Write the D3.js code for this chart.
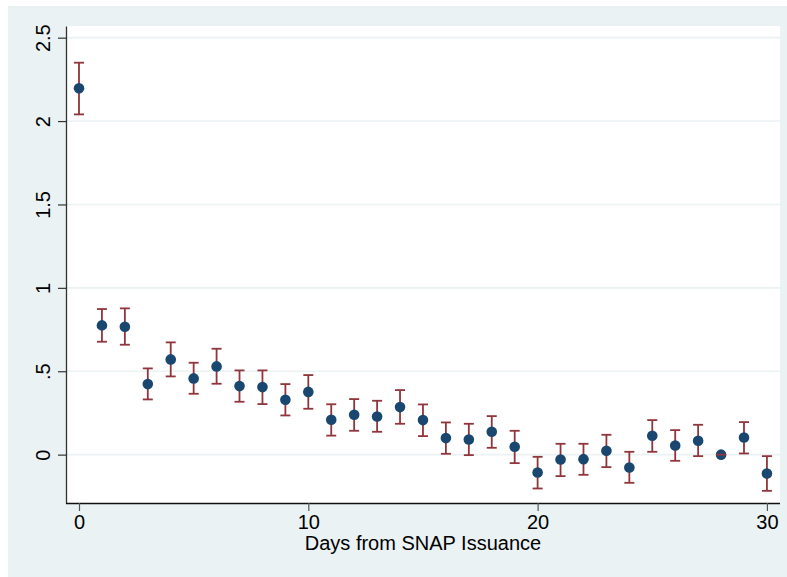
<!DOCTYPE html>
<html>
<head>
<meta charset="utf-8">
<script src="https://cdn.jsdelivr.net/npm/d3@7"></script>
<style>
  body { margin: 0; background: #fff; }
  svg { display: block; }
  text { font-family: "Liberation Sans", Arial, Helvetica, sans-serif; fill: #000; }
</style>
</head>
<body>
<svg id="chart" width="787" height="577"></svg>
<script>
// days since issuance and estimated coefficients with 95% CI
const days = [0, 1, 2, 3, 4, 5, 6, 7, 8, 9, 10, 11, 12, 13, 14, 15, 16, 17, 18, 19, 20,
    21, 22, 23, 24, 25, 26, 27, 28, 29, 30];
const coef = [2.197, 0.775, 0.767, 0.423, 0.571, 0.457, 0.529, 0.411, 0.405, 0.329, 0.376,
    0.209, 0.239, 0.229, 0.285, 0.207, 0.099, 0.091, 0.137, 0.047, -0.107,
    -0.029, -0.027, 0.023, -0.077, 0.113, 0.055, 0.083, 0.0, 0.103, -0.113];
const ciLow = [2.04, 0.677, 0.659, 0.331, 0.469, 0.365, 0.425, 0.317, 0.303, 0.235, 0.275,
    0.114, 0.143, 0.137, 0.185, 0.111, 0.005, -0.003, 0.041, -0.051, -0.203,
    -0.129, -0.121, -0.075, -0.169, 0.017, -0.037, -0.009, 0.0, 0.007, -0.217];
const ciHigh = [2.35, 0.873, 0.877, 0.517, 0.673, 0.551, 0.635, 0.505, 0.505, 0.423, 0.477,
    0.302, 0.333, 0.323, 0.387, 0.301, 0.193, 0.185, 0.231, 0.143, -0.013,
    0.065, 0.065, 0.119, 0.017, 0.207, 0.147, 0.179, 0.0, 0.195, -0.009];
const yTicks = [0, 0.5, 1, 1.5, 2, 2.5];
const yTickLabels = ["0", ".5", "1", "1.5", "2", "2.5"];
const xTicks = [0, 10, 20, 30];
const xTitle = "Days from SNAP Issuance";

const svg = d3.select("#chart");
const bg = "#eaf2f3";
const plotL = 66, plotR = 780, plotT = 26, plotB = 503;

// outer graph region and white plot region
svg.append("rect").attr("x", 8).attr("y", 6).attr("width", 779).attr("height", 571).attr("fill", bg);
svg.append("rect").attr("x", plotL).attr("y", plotT).attr("width", plotR - plotL).attr("height", plotB - plotT).attr("fill", "#fff");

const x = d3.scaleLinear().domain([-0.567, 30.57]).range([plotL, plotR]);
const y = d3.scaleLinear().domain([-0.29, 2.57]).range([plotB, plotT]);

// gridlines
svg.append("g").selectAll("line").data(yTicks).join("line")
    .attr("x1", plotL).attr("x2", plotR)
    .attr("y1", d => y(d)).attr("y2", d => y(d))
    .attr("stroke", bg).attr("stroke-width", 1.6);

// y axis
const yAxis = svg.append("g").attr("transform", `translate(${plotL},0)`)
    .call(d3.axisLeft(y).tickValues(yTicks).tickSize(8).tickSizeOuter(0)
        .tickFormat((d, i) => yTickLabels[i]));
yAxis.select(".domain").attr("stroke", "#333").attr("stroke-width", 1.3);
yAxis.selectAll(".tick line").attr("stroke", "#333").attr("stroke-width", 1.2);
yAxis.selectAll(".tick text")
    .attr("font-size", 20)
    .attr("text-anchor", "middle")
    .attr("x", null).attr("dy", null)
    .attr("transform", "translate(-16,0) rotate(-90)");

// x axis
const xAxis = svg.append("g").attr("transform", `translate(0,${plotB})`)
    .call(d3.axisBottom(x).tickValues(xTicks).tickSize(8).tickSizeOuter(0));
xAxis.select(".domain").attr("stroke", "#111").attr("stroke-width", 1.3)
    .attr("d", `M${plotL},0.5H${plotR}`);
xAxis.selectAll(".tick line").attr("stroke", "#555").attr("stroke-width", 1.2);
xAxis.selectAll(".tick text").attr("font-size", 20).attr("dy", null).attr("y", 26);

svg.append("text")
    .attr("x", (x(0) + x(30)) / 2)
    .attr("y", 550)
    .attr("text-anchor", "middle")
    .attr("font-size", 20)
    .text(xTitle);

// error bars
const bars = svg.append("g").attr("stroke", "#90353b").attr("stroke-width", 1.8).attr("fill", "none");
const cap = 5;
days.forEach((d, i) => {
    const cx = x(d);
    bars.append("line").attr("x1", cx).attr("x2", cx).attr("y1", y(ciLow[i])).attr("y2", y(ciHigh[i]));
    bars.append("line").attr("x1", cx - cap).attr("x2", cx + cap).attr("y1", y(ciLow[i])).attr("y2", y(ciLow[i]));
    bars.append("line").attr("x1", cx - cap).attr("x2", cx + cap).attr("y1", y(ciHigh[i])).attr("y2", y(ciHigh[i]));
});

// point estimates
svg.append("g").selectAll("circle").data(days).join("circle")
    .attr("cx", d => x(d))
    .attr("cy", (d, i) => y(coef[i]))
    .attr("r", 5.3)
    .attr("fill", "#1a476f");

// reference day: cap lines drawn over the dot
const ref = days.indexOf(28);
svg.append("line")
    .attr("x1", x(28) - cap).attr("x2", x(28) + cap)
    .attr("y1", y(coef[ref])).attr("y2", y(coef[ref]))
    .attr("stroke", "#90353b").attr("stroke-width", 1.8);
</script>
</body>
</html>
